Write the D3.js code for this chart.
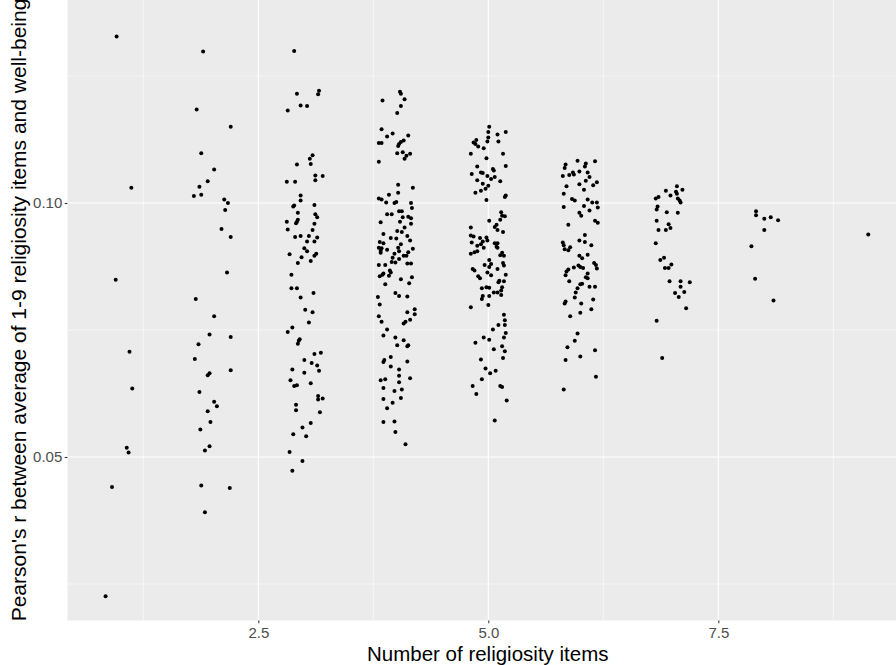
<!DOCTYPE html>
<html><head><meta charset="utf-8">
<script src="https://cdn.jsdelivr.net/npm/d3@7"></script>
<style>html,body{margin:0;padding:0;background:#fff;}svg{display:block;}</style>
</head><body>
<svg id="chart" width="896" height="665"></svg>
<script>
// Number of religiosity items (categories) and jittered observations [x, r]
const itemCounts = [1, 2, 3, 4, 5, 6, 7, 8, 9];
const n1 = [[0.96,0.1328],[1.12,0.1030],[0.95,0.0849],[1.10,0.0707],[1.13,0.0635],[1.07,0.0518],[1.09,0.0509],[0.91,0.0441],[0.84,0.0226]];
const n2 = [[1.90,0.1298],[1.83,0.1184],[2.20,0.1150],[1.88,0.1098],[2.02,0.1066],[1.95,0.1043],[1.86,0.1032],[1.80,0.1014],[1.88,0.1016],[2.13,0.1007],[2.17,0.1000],[2.14,0.0986],[2.10,0.0949],[2.20,0.0933],[2.16,0.0863],[1.82,0.0811],[2.02,0.0777],[1.97,0.0741],[2.20,0.0736],[1.85,0.0722],[1.81,0.0693],[2.20,0.0671],[1.97,0.0665],[1.95,0.0661],[1.86,0.0628],[2.02,0.0609],[2.05,0.0600],[1.95,0.0590],[1.98,0.0569],[1.87,0.0554],[1.97,0.0521],[1.92,0.0513],[1.88,0.0444],[2.19,0.0439],[1.92,0.0391]];
const n3 = [[2.89,0.1299],[3.16,0.1221],[3.15,0.1214],[2.92,0.1215],[2.82,0.1182],[2.96,0.1192],[3.03,0.1191],[3.09,0.1094],[3.06,0.1087],[2.92,0.1076],[3.07,0.1077],[3.12,0.1054],[3.20,0.1053],[3.12,0.1045],[2.81,0.1042],[2.90,0.1042],[2.96,0.1015],[2.96,0.1005],[2.89,0.0995],[2.88,0.0993],[3.11,0.0996],[2.93,0.0981],[3.12,0.0978],[3.14,0.0972],[2.81,0.0963],[2.93,0.0967],[2.92,0.0963],[2.91,0.0960],[3.11,0.0959],[2.82,0.0948],[3.09,0.0947],[2.90,0.0933],[2.96,0.0935],[3.05,0.0935],[3.14,0.0932],[3.03,0.0924],[3.11,0.0924],[3.00,0.0911],[3.03,0.0905],[2.84,0.0899],[3.13,0.0900],[3.11,0.0896],[2.97,0.0893],[2.93,0.0882],[3.07,0.0886],[2.86,0.0859],[2.86,0.0832],[2.92,0.0832],[3.10,0.0823],[2.96,0.0814],[3.01,0.0790],[3.09,0.0785],[3.05,0.0765],[2.87,0.0755],[2.82,0.0746],[2.95,0.0732],[2.94,0.0729],[2.93,0.0723],[3.11,0.0703],[3.18,0.0705],[3.00,0.0691],[3.08,0.0685],[3.14,0.0680],[2.87,0.0672],[3.16,0.0670],[3.00,0.0666],[2.85,0.0651],[3.07,0.0645],[2.89,0.0640],[2.92,0.0641],[3.15,0.0620],[3.15,0.0613],[3.20,0.0615],[2.91,0.0603],[2.91,0.0592],[3.17,0.0588],[3.07,0.0567],[2.98,0.0558],[2.88,0.0545],[3.02,0.0541],[2.84,0.0510],[2.98,0.0492],[2.87,0.0473]];
const n4 = [[4.04,0.1219],[4.05,0.1215],[4.09,0.1204],[3.85,0.1202],[4.05,0.1191],[4.01,0.1177],[3.84,0.1145],[3.96,0.1137],[3.90,0.1131],[4.13,0.1133],[4.08,0.1123],[4.05,0.1120],[4.03,0.1116],[4.02,0.1112],[3.81,0.1118],[3.84,0.1118],[4.01,0.1098],[4.07,0.1100],[4.15,0.1097],[4.11,0.1093],[4.09,0.1087],[3.81,0.1081],[4.02,0.1036],[4.18,0.1030],[4.02,0.1020],[3.92,0.1016],[3.81,0.1009],[3.84,0.1007],[3.89,0.1001],[3.98,0.1000],[4.00,0.1002],[4.16,0.1000],[4.17,0.0990],[4.03,0.0984],[4.06,0.0984],[3.90,0.0978],[3.95,0.0978],[4.07,0.0972],[4.13,0.0973],[4.16,0.0970],[4.04,0.0963],[3.83,0.0962],[4.16,0.0959],[4.09,0.0952],[4.01,0.0945],[4.06,0.0943],[3.86,0.0939],[4.12,0.0935],[3.94,0.0931],[4.00,0.0930],[4.15,0.0926],[3.82,0.0923],[3.86,0.0921],[4.05,0.0919],[3.81,0.0912],[3.84,0.0911],[3.83,0.0906],[3.90,0.0908],[4.02,0.0912],[4.18,0.0910],[4.03,0.0905],[4.13,0.0903],[3.83,0.0902],[3.98,0.0900],[4.08,0.0896],[4.11,0.0896],[3.96,0.0892],[4.03,0.0890],[3.95,0.0884],[3.99,0.0883],[3.81,0.0878],[3.88,0.0878],[4.12,0.0881],[4.16,0.0881],[3.93,0.0867],[3.94,0.0863],[3.86,0.0861],[3.82,0.0856],[3.85,0.0859],[3.92,0.0857],[4.05,0.0850],[4.17,0.0854],[4.14,0.0842],[3.88,0.0840],[3.99,0.0823],[4.03,0.0817],[4.12,0.0816],[3.80,0.0815],[3.82,0.0800],[4.20,0.0791],[4.12,0.0785],[4.20,0.0781],[3.81,0.0777],[4.15,0.0770],[4.10,0.0766],[4.08,0.0763],[3.84,0.0766],[3.90,0.0751],[3.86,0.0739],[3.99,0.0735],[4.08,0.0730],[4.01,0.0720],[4.12,0.0718],[4.13,0.0720],[3.94,0.0697],[3.87,0.0691],[3.86,0.0687],[4.12,0.0688],[3.94,0.0678],[4.03,0.0672],[4.03,0.0660],[4.15,0.0655],[3.83,0.0651],[3.88,0.0653],[4.03,0.0647],[3.86,0.0636],[4.06,0.0633],[3.98,0.0630],[4.05,0.0616],[3.86,0.0614],[3.96,0.0607],[3.90,0.0596],[3.86,0.0569],[3.98,0.0570],[3.99,0.0549],[4.10,0.0525]];
const n5 = [[5.01,0.1150],[5.00,0.1140],[5.19,0.1140],[5.10,0.1135],[4.87,0.1124],[4.84,0.1119],[5.00,0.1129],[4.99,0.1121],[5.11,0.1121],[4.86,0.1116],[4.89,0.1111],[4.95,0.1108],[4.81,0.1097],[5.16,0.1097],[4.98,0.1088],[5.19,0.1073],[4.88,0.1072],[5.05,0.1067],[5.06,0.1064],[4.92,0.1060],[4.94,0.1059],[4.82,0.1057],[4.99,0.1053],[5.07,0.1051],[5.03,0.1047],[4.88,0.1045],[5.13,0.1043],[4.94,0.1038],[5.00,0.1034],[4.97,0.1028],[4.92,0.1024],[4.86,0.1020],[5.19,0.1015],[5.18,0.1012],[4.98,0.1006],[5.14,0.0982],[5.15,0.0975],[5.18,0.0974],[5.01,0.0965],[5.13,0.0967],[5.09,0.0957],[5.07,0.0953],[5.10,0.0947],[5.16,0.0943],[4.81,0.0952],[4.81,0.0936],[4.84,0.0934],[4.91,0.0931],[4.98,0.0932],[4.99,0.0926],[4.94,0.0924],[4.82,0.0922],[4.92,0.0919],[4.88,0.0916],[4.95,0.0912],[5.07,0.0921],[5.10,0.0921],[5.09,0.0914],[5.10,0.0912],[4.81,0.0900],[4.85,0.0903],[4.88,0.0905],[5.15,0.0902],[5.17,0.0896],[5.13,0.0897],[5.01,0.0888],[5.03,0.0880],[4.96,0.0878],[5.01,0.0874],[5.16,0.0882],[5.17,0.0877],[5.10,0.0870],[4.83,0.0870],[4.85,0.0867],[4.99,0.0863],[5.03,0.0858],[5.19,0.0859],[4.89,0.0856],[4.91,0.0852],[5.12,0.0847],[5.11,0.0844],[5.17,0.0846],[4.98,0.0834],[5.01,0.0833],[4.93,0.0832],[5.15,0.0834],[5.14,0.0828],[5.06,0.0824],[5.10,0.0824],[4.94,0.0817],[5.01,0.0817],[5.14,0.0819],[4.93,0.0811],[5.00,0.0799],[4.81,0.0795],[5.17,0.0780],[5.18,0.0769],[5.11,0.0760],[5.18,0.0760],[5.05,0.0751],[5.19,0.0744],[4.95,0.0735],[5.01,0.0731],[5.17,0.0735],[4.86,0.0725],[5.15,0.0718],[5.06,0.0712],[5.18,0.0708],[5.16,0.0695],[4.92,0.0692],[4.97,0.0674],[5.08,0.0670],[5.02,0.0665],[4.93,0.0653],[4.83,0.0640],[5.13,0.0640],[5.15,0.0638],[4.87,0.0624],[5.20,0.0611],[5.07,0.0572]];
const n6 = [[5.97,0.1083],[6.16,0.1082],[5.84,0.1076],[6.06,0.1078],[6.05,0.1072],[5.83,0.1069],[5.99,0.1062],[6.08,0.1060],[5.92,0.1060],[5.88,0.1055],[5.93,0.1056],[5.81,0.1053],[6.10,0.1051],[6.06,0.1044],[6.18,0.1041],[6.14,0.1035],[5.99,0.1037],[5.85,0.1033],[6.04,0.1026],[5.82,0.1018],[5.91,0.1008],[5.94,0.1005],[6.08,0.1007],[6.13,0.1001],[6.18,0.1001],[6.04,0.0994],[6.19,0.0991],[5.82,0.0992],[6.10,0.0985],[5.99,0.0981],[6.01,0.0975],[6.16,0.0965],[6.19,0.0961],[5.87,0.0957],[6.05,0.0937],[5.99,0.0926],[6.05,0.0923],[5.81,0.0922],[5.82,0.0917],[6.12,0.0917],[5.89,0.0913],[5.83,0.0909],[5.87,0.0907],[6.08,0.0898],[5.99,0.0896],[6.02,0.0891],[6.15,0.0882],[6.17,0.0878],[6.18,0.0871],[5.98,0.0877],[5.93,0.0873],[6.03,0.0872],[6.00,0.0874],[5.87,0.0869],[5.85,0.0865],[5.84,0.0858],[6.08,0.0861],[6.06,0.0854],[6.08,0.0852],[5.88,0.0846],[6.02,0.0841],[6.00,0.0840],[5.97,0.0832],[6.10,0.0835],[6.16,0.0835],[5.95,0.0824],[5.94,0.0814],[6.14,0.0810],[5.84,0.0806],[5.83,0.0802],[6.01,0.0802],[6.12,0.0791],[5.89,0.0777],[6.00,0.0784],[5.97,0.0743],[5.94,0.0729],[5.86,0.0716],[6.16,0.0710],[5.84,0.0691],[6.00,0.0698],[6.17,0.0658],[5.82,0.0633]];
const n7 = [[7.05,0.1033],[6.93,0.1024],[7.11,0.1026],[7.04,0.1022],[7.05,0.1018],[6.98,0.1015],[6.85,0.1012],[6.82,0.1009],[7.06,0.1009],[7.08,0.1005],[7.09,0.1001],[6.84,0.0993],[6.83,0.0987],[6.94,0.0982],[7.06,0.0981],[6.83,0.0965],[6.96,0.0958],[6.98,0.0951],[6.85,0.0947],[6.93,0.0947],[6.82,0.0921],[6.91,0.0892],[6.87,0.0888],[6.99,0.0879],[6.92,0.0872],[6.96,0.0872],[6.97,0.0846],[7.09,0.0846],[7.19,0.0844],[7.09,0.0835],[7.13,0.0825],[7.03,0.0823],[7.07,0.0815],[7.15,0.0793],[6.83,0.0768],[6.89,0.0695]];
const n8 = [[7.91,0.0984],[7.91,0.0976],[8.00,0.0969],[8.07,0.0972],[8.15,0.0966],[8.00,0.0947],[7.86,0.0915],[7.90,0.0851],[8.10,0.0808]];
const n9 = [[9.13,0.0938]];
const groups = [n1, n2, n3, n4, n5, n6, n7, n8, n9];

const xMajor = [2.5, 5.0, 7.5];
const xMinor = [1.25, 3.75, 6.25, 8.75];
const yMajor = [0.05, 0.10];
const yMinor = [0.025, 0.075, 0.125];
const xTitle = "Number of religiosity items";
const yTitle = "Pearson's r between average of 1-9 religiosity items and well-being";

const W = 896, H = 665;
const panel = {left: 67.5, right: 908, top: -2, bottom: 620.5};
const svg = d3.select("#chart");
const font = "'Liberation Sans', Arial, sans-serif";

const x = d3.scaleLinear().domain([2.5, 7.5]).range([258.3, 718.3]);
const y = d3.scaleLinear().domain([0.05, 0.10]).range([457, 203]);

svg.append("rect").attr("width", W).attr("height", H).attr("fill", "#fff");
svg.append("rect").attr("x", panel.left).attr("y", panel.top)
  .attr("width", panel.right - panel.left).attr("height", panel.bottom - panel.top)
  .attr("fill", "#EBEBEB");

const grid = svg.append("g");
grid.selectAll(".xmin").data(xMinor).enter().append("line")
  .attr("x1", d => x(d)).attr("x2", d => x(d)).attr("y1", panel.top).attr("y2", panel.bottom)
  .attr("stroke", "#fff").attr("stroke-width", 0.55);
grid.selectAll(".ymin").data(yMinor).enter().append("line")
  .attr("y1", d => y(d)).attr("y2", d => y(d)).attr("x1", panel.left).attr("x2", panel.right)
  .attr("stroke", "#fff").attr("stroke-width", 0.55);
grid.selectAll(".xmaj").data(xMajor).enter().append("line")
  .attr("x1", d => x(d)).attr("x2", d => x(d)).attr("y1", panel.top).attr("y2", panel.bottom)
  .attr("stroke", "#fff").attr("stroke-width", 1.1);
grid.selectAll(".ymaj").data(yMajor).enter().append("line")
  .attr("y1", d => y(d)).attr("y2", d => y(d)).attr("x1", panel.left).attr("x2", panel.right)
  .attr("stroke", "#fff").attr("stroke-width", 1.1);

const pts = svg.append("g");
groups.forEach((g, i) => {
  pts.selectAll(null).data(g).enter().append("circle")
    .attr("cx", d => x(d[0])).attr("cy", d => y(d[1])).attr("r", 2)
    .attr("fill", "#000");
});

// axes
const xAxis = svg.append("g").attr("transform", `translate(0,${panel.bottom})`)
  .call(d3.axisBottom(x).tickValues(xMajor).tickFormat(d3.format(".1f")).tickSize(2.75).tickPadding(4));
const yAxis = svg.append("g").attr("transform", `translate(${panel.left},0)`)
  .call(d3.axisLeft(y).tickValues(yMajor).tickFormat(d3.format(".2f")).tickSize(2.75).tickPadding(2.5));
[xAxis, yAxis].forEach(a => {
  a.select(".domain").remove();
  a.selectAll(".tick line").attr("stroke", "#333").attr("stroke-width", 1.07);
  a.selectAll(".tick text").attr("fill", "#4D4D4D").style("font-family", font).style("font-size", "15px");
});

svg.append("text").attr("x", (panel.left + panel.right) / 2).attr("y", 660.5)
  .attr("text-anchor", "middle").attr("fill", "#000")
  .style("font-family", font).style("font-size", "20.5px").text(xTitle);
svg.append("text").attr("transform", `translate(26,310) rotate(-90)`)
  .attr("text-anchor", "middle").attr("fill", "#000")
  .style("font-family", font).style("font-size", "21px").text(yTitle);
</script>
</body></html>
